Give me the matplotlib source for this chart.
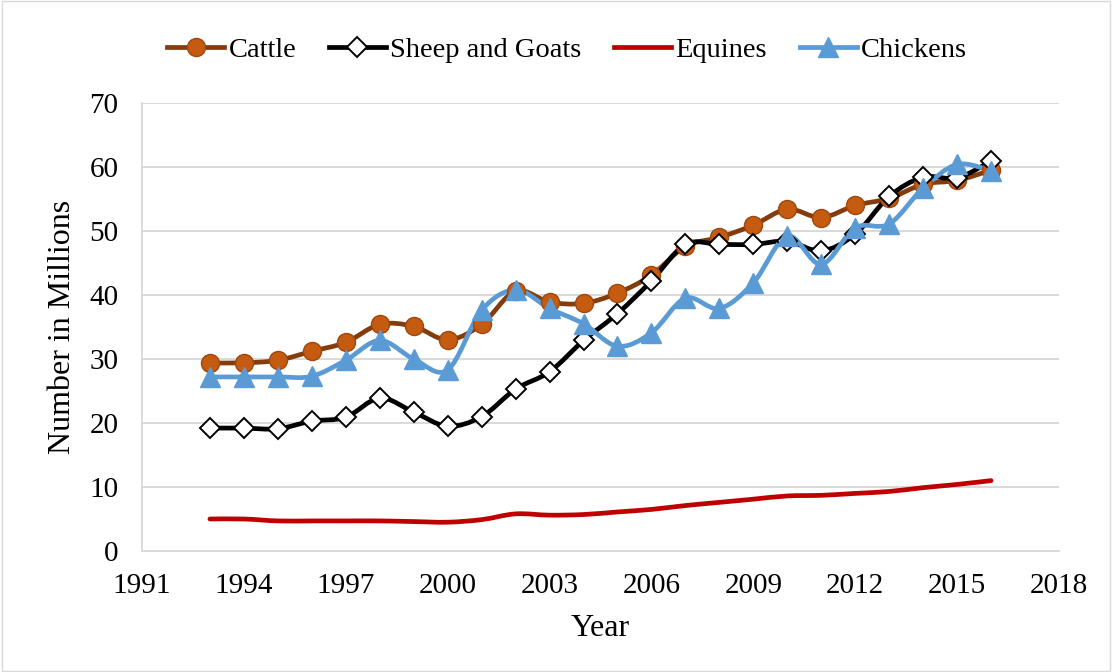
import matplotlib
matplotlib.use("Agg")
import matplotlib.pyplot as plt
from matplotlib.path import Path
from matplotlib.patches import PathPatch, Rectangle
from matplotlib.lines import Line2D

plt.rcParams['font.family'] = ['Liberation Serif', 'DejaVu Serif']

# data (millions)
years = list(range(1993, 2017))
cattle = [29.4, 29.4, 29.8, 31.2, 32.6, 35.4, 35.1, 33.0, 35.4, 40.6, 38.9, 38.7,
          40.3, 43.1, 47.6, 49.0, 50.9, 53.4, 52.1, 54.0, 55.1, 57.3, 57.9, 59.5]
sheep_goats = [19.2, 19.2, 19.1, 20.3, 20.9, 23.9, 21.7, 19.5, 21.0, 25.3, 28.0, 32.9,
               37.1, 42.2, 47.9, 47.9, 47.9, 48.4, 46.9, 49.5, 55.4, 58.4, 58.3, 60.9]
equines = [5.0, 5.0, 4.7, 4.7, 4.7, 4.7, 4.6, 4.5, 4.9, 5.8, 5.6, 5.7,
           6.1, 6.5, 7.1, 7.6, 8.1, 8.6, 8.7, 9.0, 9.3, 9.9, 10.4, 11.0]
chickens = [27.2, 27.2, 27.2, 27.3, 29.8, 32.9, 30.0, 28.3, 37.6, 40.8, 37.9, 35.5,
            32.0, 34.1, 39.5, 37.9, 41.9, 49.2, 44.8, 50.5, 51.1, 56.7, 60.4, 59.4]
xticks = list(range(1991, 2019, 3))
yticks = list(range(0, 71, 10))


def smooth_path(xs, ys):
    # Excel-style smoothed line: cubic bezier through each point
    pts = list(zip(xs, ys))
    n = len(pts)
    verts = [pts[0]]
    codes = [Path.MOVETO]
    for i in range(n - 1):
        p0 = pts[i - 1] if i > 0 else pts[i]
        p1 = pts[i]
        p2 = pts[i + 1]
        p3 = pts[i + 2] if i + 2 < n else pts[i + 1]
        c1 = (p1[0] + (p2[0] - p0[0]) / 6, p1[1] + (p2[1] - p0[1]) / 6)
        c2 = (p2[0] - (p3[0] - p1[0]) / 6, p2[1] - (p3[1] - p1[1]) / 6)
        verts += [c1, c2, p2]
        codes += [Path.CURVE4] * 3
    return Path(verts, codes)


fig = plt.figure(figsize=(11.12, 6.72), dpi=100)
fig.patches.append(Rectangle((0.002, 0.002), 0.996, 0.996, transform=fig.transFigure,
                             fill=False, edgecolor='#D9D9D9', linewidth=1))
ax = fig.add_axes([142 / 1112, 1 - 551 / 672, 917 / 1112, 448 / 672])

series = [
    ('Cattle', cattle, '#843C0C', dict(marker='o', markersize=13, markerfacecolor='#C55A11',
                                       markeredgecolor='#9E480E', markeredgewidth=1)),
    ('Sheep and Goats', sheep_goats, '#000000', dict(marker='D', markersize=10, markerfacecolor='white',
                                                     markeredgecolor='black', markeredgewidth=1.4)),
    ('Equines', equines, '#C00000', dict(marker=None)),
    ('Chickens', chickens, '#5B9BD5', dict(marker='^', markersize=14, markerfacecolor='#5B9BD5',
                                           markeredgecolor='#5B9BD5')),
]

handles = []
for name, vals, color, mk in series:
    ax.add_patch(PathPatch(smooth_path(years, vals), fill=False, edgecolor=color,
                           linewidth=3.4, capstyle='round', joinstyle='round', zorder=3))
    if mk['marker']:
        ax.plot(years, vals, linestyle='none', zorder=4, **mk)
    handles.append(Line2D([0], [0], color=color, linewidth=3.4, **mk))

ax.set_xlim(1991, 2018)
ax.set_ylim(0, 70)
ax.set_xticks(xticks)
ax.set_yticks(yticks)
ax.tick_params(axis='both', length=0, labelsize=21)
ax.tick_params(axis='x', pad=16)
ax.tick_params(axis='y', pad=17)
ax.grid(axis='y', color='#D9D9D9', linewidth=1.4)
ax.set_axisbelow(True)
for s in ['top', 'right']:
    ax.spines[s].set_visible(False)
for s in ['bottom', 'left']:
    ax.spines[s].set_color('#D9D9D9')
    ax.spines[s].set_linewidth(1.4)

ax.set_xlabel('Year', fontsize=23, va='center')
ax.xaxis.set_label_coords(0.5, (551 - 629) / 448)
ax.set_ylabel('Number in Millions', fontsize=23, va='center')
ax.yaxis.set_label_coords((62 - 142) / 917, 0.5)

fig.legend(handles, [s[0] for s in series], loc='center', bbox_to_anchor=(567 / 1112, 1 - 50 / 672),
           ncol=4, frameon=False, fontsize=20.5, handlelength=2.0, columnspacing=1.15,
           handletextpad=0.15)

fig.savefig('out.png', dpi=100)
